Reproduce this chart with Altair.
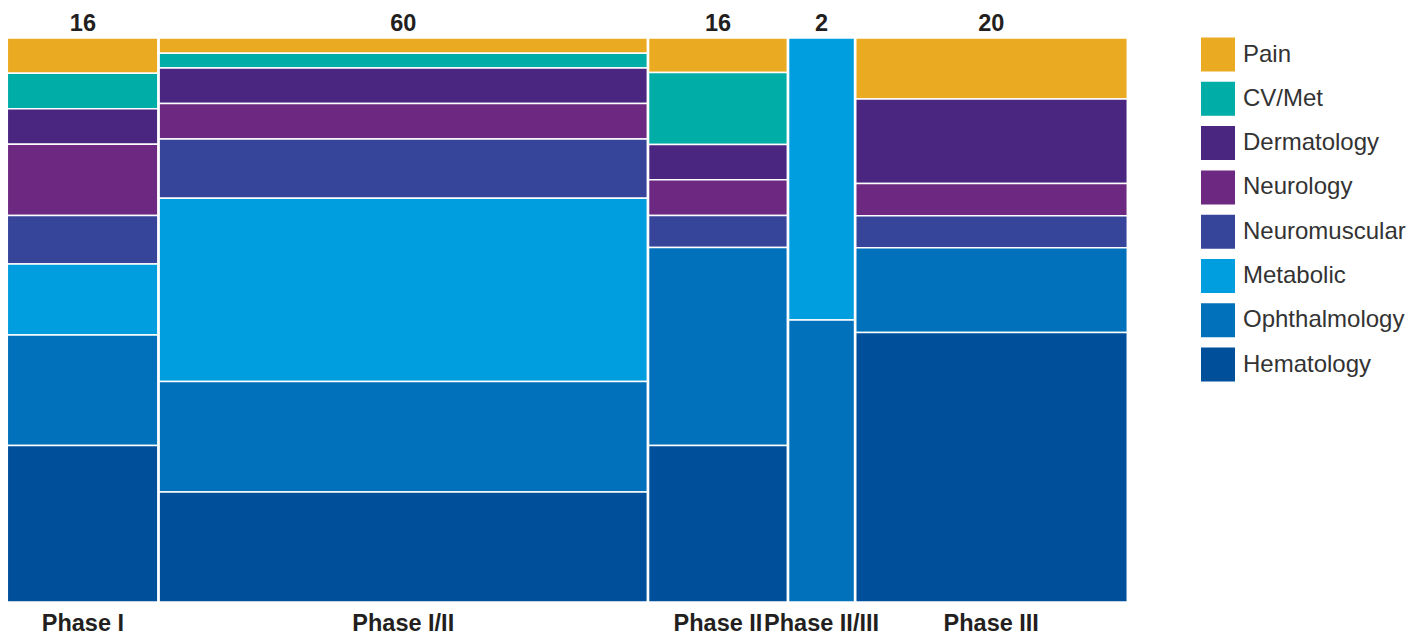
import altair as alt
import pandas as pd

# ---- data ----
phases = ["Phase I", "Phase I/II", "Phase II", "Phase II/III", "Phase III"]
counts = [16, 60, 16, 2, 20]
col_share = [13.5, 43.7, 12.5, 6.0, 24.3]  # column width share (%)

categories = ["Pain", "CV/Met", "Dermatology", "Neurology", "Neuromuscular",
              "Metabolic", "Ophthalmology", "Hematology"]
colors = ["#EAAA21", "#00ADA7", "#4A2680", "#6D2981", "#36449A",
          "#009EDF", "#0071BA", "#004F9A"]

# segment shares (% of column), in category order (top to bottom)
phase_1 = [6.25, 6.3, 6.3, 12.6, 8.6, 12.6, 19.6, 27.75]
phase_1_2 = [2.7, 2.6, 6.3, 6.3, 10.5, 32.5, 19.6, 19.5]
phase_2 = [6.1, 12.8, 6.25, 6.3, 5.7, 0, 35.1, 27.75]
phase_2_3 = [0, 0, 0, 0, 0, 50, 50, 0]
phase_3 = [10.8, 0, 15.0, 5.7, 5.7, 0, 15.0, 47.8]
shares = [phase_1, phase_1_2, phase_2, phase_2_3, phase_3]

# ---- build tables ----
rows, labels, bounds = [], [], []
left = 0.0
for p, n, w, seg in zip(phases, counts, col_share, shares):
    top = 100.0
    for cat, s in zip(categories, seg):
        if s <= 0:
            continue
        rows.append(dict(phase=p, category=cat, x0=left, x1=left + w,
                         y0=top - s, y1=top))
        top -= s
    labels.append(dict(phase=p, count=n, center=left + w / 2))
    left += w
    if left < 99.9:
        bounds.append(dict(xb=left))

df = pd.DataFrame(rows)
lab = pd.DataFrame(labels)
bdf = pd.DataFrame(bounds)

W, H = 1120, 564
xs = alt.Scale(domain=[0, 100], nice=False, zero=False)
ys = alt.Scale(domain=[0, 100], nice=False, zero=False)

rects = alt.Chart(df).mark_rect(stroke="white", strokeWidth=1.5).encode(
    x=alt.X("x0:Q", scale=xs, axis=None),
    x2="x1:Q",
    y=alt.Y("y0:Q", scale=ys, axis=None),
    y2="y1:Q",
    color=alt.Color(
        "category:N",
        scale=alt.Scale(domain=categories, range=colors),
        legend=alt.Legend(
            title=None, orient="none", legendX=1193.7, legendY=-0.5,
            symbolType="square", symbolSize=1156, symbolStrokeWidth=0,
            symbolOpacity=1, labelFontSize=24, labelFont="Liberation Sans",
            labelColor="#333333", labelOffset=8, rowPadding=10.3, padding=0,
            labelLimit=300,
        ),
    ),
)

rules = alt.Chart(bdf).mark_rule(color="white", strokeWidth=2.7).encode(
    x=alt.X("xb:Q", scale=xs, axis=None),
    y=alt.value(0),
    y2=alt.value(H),
)

top_text = alt.Chart(lab).mark_text(
    font="Liberation Sans", fontWeight="bold", fontSize=23.5,
    color="#231F20", baseline="alphabetic", align="center",
).encode(
    x=alt.X("center:Q", scale=xs, axis=None),
    y=alt.value(-7),
    text="count:Q",
)

bottom_text = alt.Chart(lab).mark_text(
    font="Liberation Sans", fontWeight="bold", fontSize=23.5,
    color="#231F20", baseline="alphabetic", align="center",
).encode(
    x=alt.X("center:Q", scale=xs, axis=None),
    y=alt.value(H + 29),
    text="phase:N",
)

chart = alt.layer(rects, rules, top_text, bottom_text).properties(
    width=W, height=H,
    autosize=alt.AutoSizeParams(type="none"),
    padding={"left": 7.3, "top": 38, "right": 1419 - 7.3 - W, "bottom": 635 - 38 - H},
).configure_view(stroke=None)

chart.save("out.html", embed_options={"renderer": "svg", "actions": False})
